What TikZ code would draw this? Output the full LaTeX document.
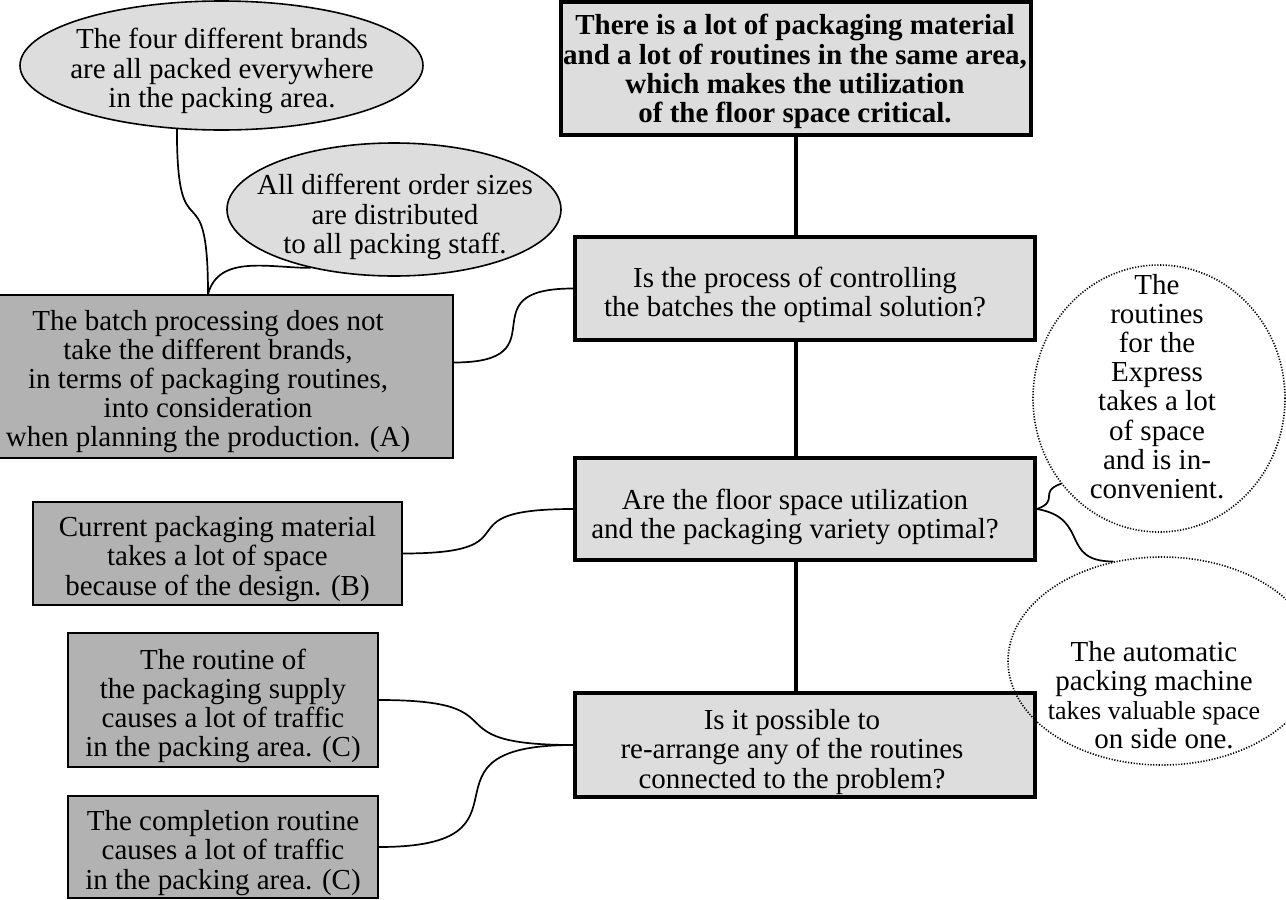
\documentclass[tikz,border=0pt]{standalone}
\usepackage{fontspec}
\setmainfont{Liberation Serif}
\usetikzlibrary{shapes.geometric,calc,backgrounds}
\definecolor{lightfill}{gray}{0.865}
\definecolor{darkfill}{gray}{0.70}
\begin{document}
\begin{tikzpicture}[x=0.5pt,y=-0.5pt,
  txt/.style={font=\fontsize{14.5}{14.6}\selectfont, align=center, inner sep=0pt},
  boldtxt/.style={font=\fontsize{14.5}{14.6}\selectfont\bfseries, align=center, inner sep=0pt},
  qbox/.style={draw, line width=2pt, fill=lightfill, inner sep=0pt},
  cause/.style={draw, line width=0.8pt, fill=darkfill, inner sep=0pt},
  bubble/.style={ellipse, draw, line width=0.8pt, fill=lightfill, inner sep=0pt},
  dotbubble/.style={ellipse, draw, line width=0.8pt, dash pattern=on 0.6pt off 0.8pt, inner sep=0pt},
  link/.style={line width=0.85pt},
  spine/.style={line width=2pt}]
\useasboundingbox (0,0) rectangle (1286,900);

% main problem and the three questions
\node[qbox, minimum width=235pt, minimum height=66.5pt] (top) at (796,68.5) {};
\node[qbox, minimum width=230pt, minimum height=51.5pt] (q1) at (805,288.5) {};
\node[qbox, minimum width=230pt, minimum height=51pt] (q2) at (805,509) {};
\node[qbox, minimum width=230pt, minimum height=52pt] (q3) at (805,745) {};

% causes
\node[cause, minimum width=245pt, minimum height=81.5pt] (bA) at (208,376.5) {};
\node[cause, minimum width=184.5pt, minimum height=51.5pt] (bB) at (217.5,553.5) {};
\node[cause, minimum width=155pt, minimum height=67pt] (bC) at (223,700) {};
\node[cause, minimum width=155pt, minimum height=51pt] (bD) at (223,847) {};

% remarks
\node[bubble, minimum width=201.5pt, minimum height=64.5pt] (e1) at (221.5,65.5) {};
\node[bubble, minimum width=167pt, minimum height=66.5pt] (e2) at (394,209.5) {};
\node[dotbubble, minimum width=126pt, minimum height=133.5pt] (c1) at (1159,398.5) {};
\node[dotbubble, minimum width=154pt, minimum height=104pt] (c2) at (1162,661) {};

% texts
\node[boldtxt] (top-t) at (795,71.5) {There is a lot of packaging material\\and a lot of routines in the same area,\\which makes the utilization\\of the floor space critical.};
\node[txt] (q1-t) at (795,295) {Is the process of controlling\\the batches the optimal solution?};
\node[txt] (q2-t) at (795,517) {Are the floor space utilization\\and the packaging variety optimal?};
\node[txt] (q3-t) at (792,752) {Is it possible to\\re-arrange any of the routines\\connected to the problem?};
\node[txt] (bA-t) at (208,381.5) {The batch processing does not\\take the different brands,\\in terms of packaging routines,\\into consideration\\when planning the production. (A)};
\node[txt] (bB-t) at (217.5,559) {Current packaging material\\takes a lot of space\\because of the design. (B)};
\node[txt] (bC-t) at (223,706) {The routine of\\the packaging supply\\causes a lot of traffic\\in the packing area. (C)};
\node[txt] (bD-t) at (223,853) {The completion routine\\causes a lot of traffic\\in the packing area. (C)};
\node[txt] (e1-t) at (222,71) {The four different brands\\are all packed everywhere\\in the packing area.};
\node[txt] (e2-t) at (395,217) {All different order sizes\\are distributed\\to all packing staff.};
\node[txt] (c1-t) at (1157,386.5) {The\\routines\\for the\\Express\\takes a lot\\of space\\and is in-\\convenient.};
\node[txt] (c2-t) at (1154,695) {The automatic\\packing machine\\{\fontsize{13}{14.6}\selectfont takes valuable space}\\\hspace*{10pt}on side one.};

% spine behind the question boxes
\begin{pgfonlayer}{background}
\draw[spine] (top.south) -- (top.south |- q3.north);
\end{pgfonlayer}

% connectors
\coordinate (aS) at ($(bA.east)+(0,-14)$);
\draw[link] (aS) to[out=0,in=180,looseness=2] (q1.west);
\draw[link] (bB.east) to[out=0,in=180,looseness=2] (q2.west);
\draw[link] (bC.east) to[out=0,in=180,looseness=1.9] (q3.west);
\draw[link] (bD.east) to[out=0,in=180,looseness=2] (q3.west);
\draw[link] (e1.235) to[out=-90,in=90,looseness=2] (bA.north);
\draw[link] (bA.north) to[out=75,in=180,looseness=1] (e2.215);
\draw[link] (q2.east) to[out=20,in=200,looseness=1.8] (c1.221);
\draw[link] (q2.east) to[out=-10,in=180,looseness=1.5] (c2.116);
\end{tikzpicture}
\end{document}
